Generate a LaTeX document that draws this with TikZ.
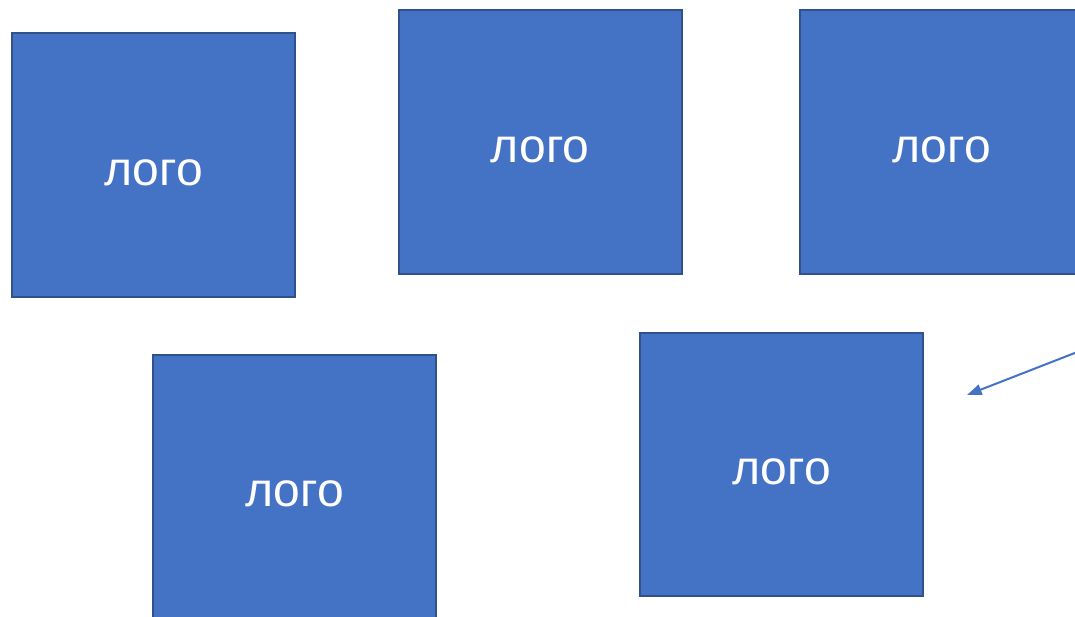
\documentclass[tikz,border=0pt]{standalone}
\usepackage{fontspec}
\setmainfont{Liberation Sans}
\usetikzlibrary{arrows.meta}

\definecolor{logofill}{RGB}{68,114,196}
\definecolor{logoline}{RGB}{47,82,143}

\tikzset{
  logobox/.style={draw=logoline, line width=1.5pt, fill=logofill, text=white,
    minimum width=212.25pt, minimum height=197.25pt, inner sep=0pt,
    font=\fontsize{36}{43}\selectfont, text height=30pt, text depth=0pt},
  pointer/.style={draw=logofill, line width=1.5pt, -{Triangle[length=11pt,width=8pt]}}
}

\begin{document}
\begin{tikzpicture}[x=0.75pt,y=0.75pt,yscale=-1,xscale=1]
\useasboundingbox (0,0) rectangle (1075,617);

%Shape: Rectangle [top row]
\node [logobox] (logoa) at (153.5,165) {лого};
\node [logobox] (logob) at (540,142) {лого};
\node [logobox] (logoc) at (941.5,142) {лого};
%Shape: Rectangle [bottom row]
\node [logobox] (logod) at (294.5,486.5) {лого};
\node [logobox] (logoe) at (781.5,464) {лого};

%Straight Lines
\coordinate (tail) at (1085,349);
\coordinate (tip) at (967,395);
\draw [pointer] (tail) -- (tip);

\end{tikzpicture}
\end{document}
